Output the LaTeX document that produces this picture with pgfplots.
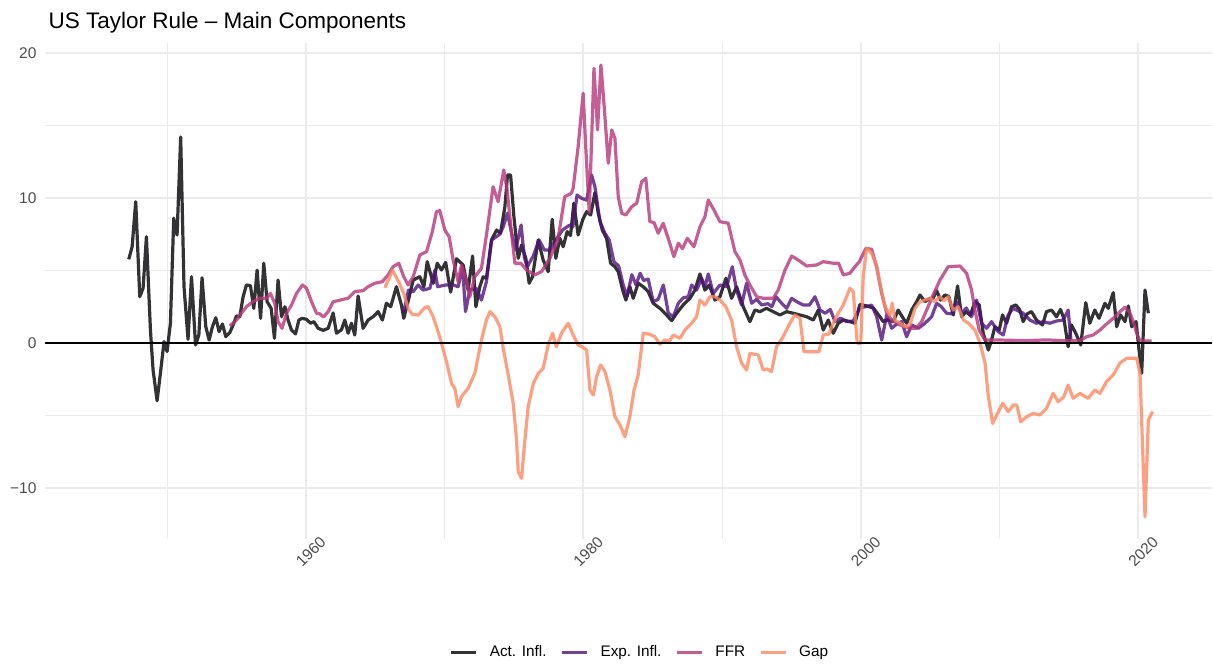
\documentclass[border=0pt]{standalone}
\usepackage{fontspec}
\setmainfont{Liberation Sans}
\usepackage{pgfplots}
\pgfplotsset{compat=1.18}
\definecolor{actinfl}{HTML}{000004}
\definecolor{expinfl}{HTML}{51127C}
\definecolor{ffr}{HTML}{B63679}
\definecolor{gap}{HTML}{FB8861}
\definecolor{gridgrey}{HTML}{EBEBEB}
\definecolor{ticktext}{HTML}{4D4D4D}

\begin{document}
\begin{tikzpicture}
\path[use as bounding box] (-45pt,-127pt) rectangle (1168pt,539pt);
\begin{axis}[
  at={(0pt,0pt)}, anchor=south west,
  scale only axis, width=1167pt, height=496pt,
  xmin=1941.2, xmax=2025.32, ymin=-13.54, ymax=20.69,
  axis line style={draw=none},
  major tick length=0pt, minor tick length=0pt,
  xtick={1960,1980,2000,2020}, xticklabels={1960,1980,2000,2020},
  minor xtick={1950,1970,1990,2010},
  ytick={-10,0,10,20}, yticklabels={−10,0,10,20},
  minor ytick={-5,5,15},
  grid=both,
  major grid style={gridgrey, line width=1.9pt},
  minor grid style={gridgrey, line width=0.95pt},
  tick label style={font=\fontsize{15.5}{16}\selectfont, text=ticktext},
  yticklabel style={anchor=east, xshift=-5pt},
  xticklabel style={anchor=center, xshift=5pt, yshift=-13pt, rotate=45},
  legend style={at={(0.509,-0.228)}, anchor=center, draw=none, fill=none,
    legend columns=4, font=\fontsize{15.3}{16}\selectfont,
    nodes={inner sep=0pt},
    /tikz/every odd column/.append style={column sep=12pt},
    /tikz/every even column/.append style={column sep=14pt}},
  legend image code/.code={\draw[#1, line width=3pt] (0pt,0pt) -- (25pt,0pt);},
  every axis plot/.append style={line width=3.2pt, opacity=0.8, line join=round},
]
\addlegendimage{actinfl}
\addlegendentry{Act. Infl.}
\addlegendimage{expinfl}
\addlegendentry{Exp. Infl.}
\addlegendimage{ffr}
\addlegendentry{FFR}
\addlegendimage{gap}
\addlegendentry{Gap}

% actual inflation
\addplot[actinfl, forget plot] coordinates {
(1947.24,5.76) (1947.48,6.63) (1947.74,9.74) (1948.03,3.18) (1948.27,3.76) (1948.51,7.32)
(1948.80,0.88) (1948.99,-1.88) (1949.28,-4.0) (1949.52,-2.1) (1949.78,0.08) (1950.0,-0.6)
(1950.24,1.35) (1950.48,8.6) (1950.72,7.44) (1950.98,14.2) (1951.22,3.87) (1951.51,0.24)
(1951.76,4.56) (1952.05,-0.15) (1952.29,0.54) (1952.52,4.49) (1952.79,1.11) (1953.03,0.19)
(1953.27,1.11) (1953.51,1.73) (1953.75,0.77) (1953.99,1.30) (1954.23,0.42) (1954.52,0.70)
(1954.76,1.23) (1955.0,1.85) (1955.24,1.80) (1955.48,3.18) (1955.72,3.99) (1956.01,3.94)
(1956.25,2.38) (1956.49,5.02) (1956.74,1.69) (1956.97,5.49) (1957.21,2.84) (1957.50,2.38)
(1957.74,0.31) (1958.0,4.33) (1958.25,1.80) (1958.49,2.49) (1958.72,1.57) (1958.97,0.88)
(1959.26,0.61) (1959.50,1.57) (1959.73,1.69) (1960.05,1.62) (1960.34,1.35) (1960.58,1.46)
(1960.89,1.0) (1961.25,0.86) (1961.61,1.0) (1961.97,2.06) (1962.21,0.66) (1962.57,0.9)
(1962.81,1.57) (1963.05,0.66) (1963.29,1.35) (1963.53,0.54) (1963.77,3.23) (1964.13,1.0)
(1964.49,1.57) (1964.85,1.80) (1965.21,2.15) (1965.52,1.57) (1965.81,2.73) (1966.12,2.49)
(1966.53,3.87) (1966.89,2.61) (1967.06,1.69) (1967.37,2.84) (1967.74,4.33) (1968.22,4.56)
(1968.51,3.87) (1968.75,5.60) (1969.18,4.11) (1969.47,5.49) (1969.78,5.02) (1970.08,5.55)
(1970.44,3.5) (1970.86,5.8) (1971.34,5.37) (1971.70,3.64) (1972.02,5.99) (1972.26,2.49)
(1972.54,3.87) (1972.78,4.56) (1973.02,4.45) (1973.38,7.09) (1973.75,7.78) (1974.03,7.56)
(1974.35,9.39) (1974.54,11.58) (1974.76,11.58) (1975.0,8.70) (1975.31,5.83) (1975.55,6.75)
(1975.86,5.83) (1976.10,4.11) (1976.34,4.56) (1976.75,7.09) (1977.11,5.71) (1977.47,4.91)
(1977.76,8.52) (1978.02,5.83) (1978.31,7.21) (1978.55,6.63) (1978.84,7.67) (1979.08,7.4)
(1979.32,9.63) (1979.63,7.44) (1979.95,8.47) (1980.24,9.05) (1980.53,8.82) (1980.84,10.36)
(1981.08,8.94) (1981.37,7.78) (1981.68,7.21) (1981.97,5.49) (1982.28,5.25) (1982.52,4.91)
(1982.84,3.64) (1983.07,2.95) (1983.36,3.87) (1983.60,3.07) (1983.96,4.11) (1984.32,3.87)
(1984.68,3.53) (1985.04,2.73) (1985.52,2.38) (1986.0,1.92) (1986.37,1.53) (1986.73,2.04)
(1987.20,2.61) (1987.69,3.07) (1988.05,3.64) (1988.41,4.75) (1988.77,3.64) (1989.08,3.99)
(1989.49,2.95) (1989.85,3.18) (1990.28,4.45) (1990.69,3.07) (1991.05,3.87) (1991.53,2.49)
(1992.01,1.46) (1992.37,2.26) (1992.73,2.15) (1993.21,2.38) (1993.69,2.15) (1994.17,1.92)
(1994.66,2.15) (1995.13,2.04) (1995.62,1.92) (1996.10,1.80) (1996.58,1.57) (1996.94,2.26)
(1997.30,0.88) (1997.66,1.57) (1998.02,0.66) (1998.38,1.35) (1998.74,1.57) (1999.22,1.46)
(1999.58,1.35) (1999.94,2.65) (2000.42,2.55) (2000.91,2.4) (2001.38,1.80) (2001.62,1.46)
(2001.98,1.6) (2002.34,1.46) (2002.70,2.26) (2003.06,1.69) (2003.31,1.35) (2003.67,2.26)
(2004.03,2.84) (2004.27,3.30) (2004.63,2.84) (2004.99,3.07) (2005.2,3.05) (2005.47,3.60)
(2005.76,2.95) (2006.07,3.30) (2006.35,3.2) (2006.67,1.92) (2006.98,3.92) (2007.27,1.80)
(2007.58,2.15) (2007.9,1.9) (2008.23,2.84) (2008.54,2.61) (2008.83,0.66) (2009.19,-0.50)
(2009.43,0.19) (2009.67,1.11) (2009.98,0.88) (2010.22,1.92) (2010.51,1.35) (2010.87,2.49)
(2011.18,2.61) (2011.45,2.3) (2011.71,1.46) (2012.0,2.0) (2012.31,2.15) (2012.67,1.57)
(2013.10,1.23) (2013.39,2.15) (2013.75,2.26) (2014.11,1.80) (2014.4,2.3) (2014.64,1.69)
(2014.95,-0.27) (2015.19,1.23) (2015.50,0.66) (2015.86,-0.15) (2016.22,2.77) (2016.51,1.35)
(2016.87,2.26) (2017.18,1.69) (2017.60,2.73) (2017.84,2.38) (2018.20,3.46) (2018.45,1.11)
(2018.73,1.92) (2019.05,1.46) (2019.29,2.54) (2019.53,1.11) (2019.84,1.46) (2020.25,-2.1)
(2020.49,3.64) (2020.73,2.04)
};

% expected inflation
\addplot[expinfl, forget plot] coordinates {
(1967.05,2.1) (1967.4,3.64) (1967.74,3.53) (1968.10,3.99) (1968.46,3.64) (1968.94,3.76)
(1969.30,5.0) (1969.50,3.87) (1970.08,3.99) (1970.62,3.99) (1970.98,3.87) (1971.30,5.25)
(1971.51,2.15) (1971.82,3.64) (1972.25,3.8) (1972.66,2.95) (1973.02,4.22) (1973.4,7.09)
(1973.99,7.5) (1974.23,8.01) (1974.53,8.94) (1974.83,7.6) (1975.13,6.40) (1975.52,8.13)
(1975.75,5.9) (1975.96,5.25) (1976.40,6.0) (1976.81,7.1) (1977.2,6.40) (1977.6,6.4)
(1978.1,7.21) (1978.5,7.78) (1978.9,8.05) (1979.05,8.13) (1979.25,8.0) (1979.55,10.2)
(1979.88,9.97) (1980.24,9.85) (1980.60,11.58) (1980.84,10.77) (1981.20,8.36) (1981.56,7.56)
(1981.87,7.09) (1982.21,5.60) (1982.55,5.3) (1982.88,3.99) (1983.15,3.2) (1983.5,4.7)
(1983.8,4.0) (1984.1,4.8) (1984.35,4.3) (1984.68,4.4) (1985.04,2.84) (1985.4,3.0)
(1985.77,3.99) (1986.13,2.04) (1986.49,1.80) (1986.85,2.73) (1987.2,3.1) (1987.57,3.18)
(1987.81,3.99) (1988.17,3.64) (1988.53,4.45) (1988.77,3.87) (1989.01,4.75) (1989.37,3.41)
(1989.85,3.99) (1990.33,3.87) (1990.74,5.25) (1991.05,3.64) (1991.41,2.61) (1991.77,4.11)
(1992.14,2.73) (1992.5,3.0) (1992.86,2.61) (1993.3,2.7) (1993.6,2.5) (1993.89,3.18)
(1994.30,2.73) (1994.66,2.38) (1995.02,3.07) (1995.45,2.8) (1995.86,2.61) (1996.3,2.6)
(1996.70,3.18) (1997.07,2.26) (1997.43,2.04) (1997.8,2.3) (1998.15,1.46) (1998.55,1.7)
(1998.99,1.46) (1999.45,1.5) (1999.94,2.4) (2000.4,2.5) (2000.79,2.6) (2001.15,1.80)
(2001.51,0.19) (2001.87,1.92) (2002.23,1.0) (2002.6,1.3) (2002.95,1.46) (2003.31,0.42)
(2003.67,1.23) (2004.15,1.0) (2004.63,1.35) (2005.11,1.80) (2005.47,2.73) (2005.8,2.5)
(2006.19,2.04) (2006.55,2.0) (2006.91,2.84) (2007.27,2.04) (2007.6,2.4) (2007.99,1.80)
(2008.35,2.95) (2008.71,1.35) (2009.07,1.0) (2009.43,1.46) (2009.91,0.77) (2010.27,0.54)
(2010.63,1.92) (2010.99,2.38) (2011.35,2.2) (2011.71,2.04) (2012.19,1.57) (2012.67,1.35)
(2013.15,1.46) (2013.63,1.35) (2014.1,1.5) (2014.59,1.57) (2014.95,2.26) (2015.15,0.2)
};

% federal funds rate
\addplot[ffr, forget plot] coordinates {
(1954.52,1.16) (1955.0,1.57) (1955.36,2.04) (1955.72,2.49) (1956.2,2.84) (1956.68,3.07)
(1957.17,3.07) (1957.45,3.41) (1957.76,2.73) (1958.0,1.46) (1958.29,1.0) (1958.61,2.04)
(1958.97,2.61) (1959.33,3.41) (1959.76,3.99) (1960.05,3.76) (1960.41,2.84) (1960.77,2.04)
(1961.0,2.0) (1961.28,1.78) (1961.61,2.15) (1961.97,2.84) (1962.3,2.9) (1962.69,3.0)
(1963.05,3.07) (1963.53,3.53) (1964.13,3.60) (1964.49,3.87) (1964.97,4.11) (1965.52,4.22)
(1965.93,4.68) (1966.29,5.25) (1966.70,5.49) (1967.06,4.56) (1967.37,3.99) (1967.74,4.56)
(1968.22,6.06) (1968.70,6.29) (1969.1,7.6) (1969.42,9.05) (1969.66,9.12) (1970.02,7.78)
(1970.33,7.32) (1970.62,5.71) (1970.98,4.22) (1971.22,5.37) (1971.55,4.4) (1971.82,3.18)
(1972.18,4.56) (1972.66,5.14) (1973.02,7.44) (1973.50,10.77) (1973.86,9.74) (1974.27,11.93)
(1974.51,10.55) (1974.83,7.56) (1975.07,5.49) (1975.5,5.49) (1975.91,5.02) (1976.51,4.68)
(1976.99,4.91) (1977.59,5.83) (1978.17,7.09) (1978.66,10.08) (1979.14,10.32) (1979.27,10.66)
(1979.63,13.53) (1979.99,17.22) (1980.19,13.3) (1980.43,9.0) (1980.77,18.94) (1981.03,14.69)
(1981.27,19.17) (1981.51,16.29) (1981.80,12.39) (1982.05,14.69) (1982.28,14.11) (1982.52,10.08)
(1982.77,8.94) (1983.07,8.82) (1983.49,9.39) (1983.85,9.63) (1984.21,11.12) (1984.51,11.35)
(1984.80,8.36) (1985.1,8.3) (1985.40,7.56) (1985.76,8.25) (1986.20,6.98) (1986.53,5.94)
(1986.85,6.87) (1987.15,6.5) (1987.50,7.21) (1987.98,6.63) (1988.41,8.01) (1988.77,8.70)
(1989.01,9.85) (1989.4,9.2) (1989.85,8.36) (1990.45,8.25) (1990.93,6.29) (1991.30,5.71)
(1991.65,4.68) (1992.01,3.99) (1992.50,3.18) (1992.97,3.07) (1993.69,3.07) (1994.05,3.64)
(1994.54,5.02) (1995.02,5.99) (1995.50,5.71) (1996.10,5.30) (1996.82,5.37) (1997.30,5.60)
(1998.02,5.49) (1998.4,5.5) (1998.74,4.68) (1999.22,4.80) (1999.58,5.25) (1999.9,5.6)
(2000.37,6.52) (2000.79,6.45) (2001.15,5.2) (2001.51,3.41) (2001.87,2.04) (2002.23,1.57)
(2002.83,1.23) (2003.55,1.0) (2004.0,1.0) (2004.39,1.46) (2004.75,2.26) (2005.22,3.30)
(2005.71,4.33) (2006.30,5.25) (2007.15,5.30) (2007.63,4.80) (2007.99,3.64) (2008.23,2.26)
(2008.54,0.88) (2008.95,0.19) (2009.55,0.2) (2011.95,0.15) (2013.39,0.2) (2014.59,0.15)
(2015.80,0.15) (2016.28,0.42) (2016.76,0.54) (2017.24,0.88) (2017.72,1.30) (2018.20,1.69)
(2018.68,2.15) (2019.05,2.45) (2019.36,2.15) (2019.65,1.46) (2019.89,0.66) (2020.13,0.12)
(2020.97,0.12)
};

% output gap
\addplot[gap, forget plot] coordinates {
(1965.70,3.8) (1966.25,5.0) (1966.7,4.2) (1967.1,3.3) (1967.4,2.3) (1967.7,1.95)
(1968.10,1.92) (1968.6,2.45) (1968.82,2.49) (1969.18,1.80) (1969.42,1.11) (1969.78,-0.03)
(1970.14,-1.3) (1970.50,-2.80) (1970.74,-3.14) (1970.98,-4.41) (1971.22,-3.72) (1971.70,-3.14)
(1972.18,-2.11) (1972.42,-0.96) (1972.66,0.19) (1973.02,1.57) (1973.27,2.15) (1973.63,1.80)
(1973.99,1.11) (1974.23,-0.38) (1974.59,-2.22) (1974.95,-4.18) (1975.19,-6.71) (1975.31,-8.9)
(1975.55,-9.35) (1975.79,-6.71) (1976.03,-4.41) (1976.40,-2.80) (1976.76,-2.11) (1977.11,-1.76)
(1977.47,-0.15) (1977.78,0.66) (1978.06,-0.27) (1978.43,0.66) (1978.91,1.35) (1979.27,0.54)
(1979.63,-0.15) (1979.95,-0.3) (1980.24,-0.50) (1980.48,-3.26) (1980.72,-3.60) (1980.96,-2.34)
(1981.25,-1.53) (1981.56,-1.99) (1981.92,-3.26) (1982.28,-5.10) (1982.64,-5.67) (1983.0,-6.48)
(1983.36,-5.10) (1983.65,-3.3) (1983.96,-2.2) (1984.32,0.66) (1984.75,0.6) (1985.16,0.42)
(1985.52,-0.10) (1985.88,0.19) (1986.2,0.1) (1986.49,0.54) (1986.97,0.31) (1987.33,0.88)
(1987.81,1.35) (1988.17,1.80) (1988.41,2.95) (1988.77,2.61) (1989.13,3.18) (1989.5,3.18)
(1989.85,2.95) (1990.28,2.49) (1990.69,1.57) (1991.05,-0.27) (1991.41,-1.41) (1991.77,-1.88)
(1992.01,-0.73) (1992.61,-0.84) (1992.97,-1.88) (1993.25,-1.8) (1993.57,-1.99) (1993.93,-0.27)
(1994.41,0.42) (1994.89,1.35) (1995.25,1.92) (1995.62,1.69) (1995.91,-0.61) (1996.5,-0.62)
(1996.99,-0.61) (1997.30,0.54) (1997.7,0.6) (1998.02,1.35) (1998.38,2.04) (1998.74,2.61)
(1999.22,3.76) (1999.46,3.53) (1999.75,-0.03) (2000.0,-0.03) (2000.18,4.56) (2000.42,6.52)
(2000.79,6.18) (2001.15,5.3) (2001.38,4.11) (2001.74,2.49) (2002.10,1.92) (2002.27,2.73)
(2002.46,1.57) (2002.83,1.35) (2003.19,1.11) (2003.55,1.23) (2003.91,2.38) (2004.27,2.84)
(2004.63,2.95) (2004.99,3.07) (2005.35,2.84) (2005.71,3.18) (2006.0,2.9) (2006.31,3.18)
(2006.67,2.26) (2007.03,2.49) (2007.40,1.57) (2007.76,1.35) (2008.23,0.88) (2008.60,-0.03)
(2008.96,-1.41) (2009.20,-3.72) (2009.51,-5.56) (2009.80,-4.98) (2010.23,-4.18) (2010.64,-4.75)
(2011.0,-4.29) (2011.25,-4.3) (2011.53,-5.45) (2011.96,-5.10) (2012.43,-4.87) (2012.92,-4.98)
(2013.39,-4.52) (2013.87,-3.49) (2014.23,-4.07) (2014.64,-3.72) (2014.95,-2.91) (2015.31,-3.83)
(2015.80,-3.49) (2016.39,-3.83) (2016.87,-3.26) (2017.24,-3.49) (2017.72,-2.68) (2018.20,-2.22)
(2018.68,-1.41) (2019.16,-1.07) (2019.89,-1.07) (2020.13,-2.1) (2020.49,-12.0) (2020.73,-5.33)
(2021.04,-4.75)
};

% zero line
\addplot[black, line width=2pt, opacity=1, forget plot] coordinates {(1941.2,0) (2025.32,0)};
\end{axis}
\node[anchor=base west, font=\fontsize{22.5}{24}\selectfont]
  at ([yshift=14.7pt]current axis.north west) {US Taylor Rule – Main Components};
\end{tikzpicture}
\end{document}
